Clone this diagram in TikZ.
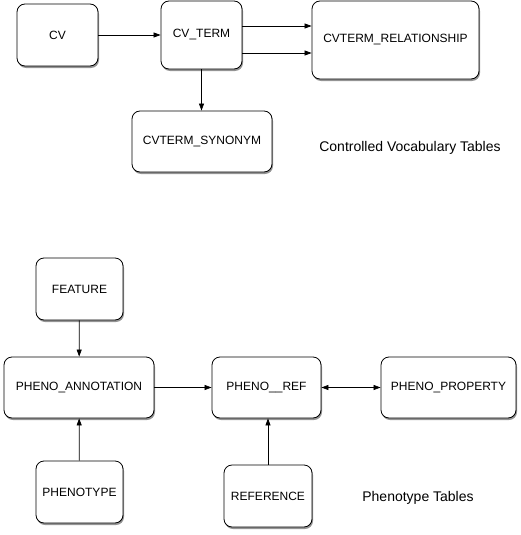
\documentclass[tikz,border=0pt]{standalone}
\usepackage{fontspec}
\setmainfont{Liberation Sans}
\usetikzlibrary{arrows.meta,shadows}

\begin{document}
\begin{tikzpicture}[x=1pt,y=-1pt,
    tbl/.style={draw,fill=white,line width=0.8pt,rounded corners=8pt,
      drop shadow={shadow xshift=1pt,shadow yshift=-2pt,fill=black!70,opacity=0.6},
      font=\fontsize{12}{14}\selectfont},
    caption/.style={font=\fontsize{14}{16}\selectfont}]
      \useasboundingbox (0,0) rectangle (520,535);
      % controlled vocabulary
      \draw
        (57.5,35) node[tbl,minimum width=81pt,minimum height=62pt] (cv){CV}
        (201.5,35) node[tbl,minimum width=81pt,minimum height=68pt] (cvterm){CV\_TERM}
        (395.5,40) node[tbl,minimum width=167pt,minimum height=78pt] (rel){CVTERM\_RELATIONSHIP}
        (202,141.5) node[tbl,minimum width=140pt,minimum height=61pt] (syn){CVTERM\_SYNONYM}
        (410,148) node[caption] (cvcap){Controlled Vocabulary Tables};
      % phenotype
      \draw
        (79.5,289) node[tbl,minimum width=87pt,minimum height=62pt] (feature){FEATURE}
        (79,387.5) node[tbl,minimum width=150pt,minimum height=61pt] (annot){PHENO\_ANNOTATION}
        (266.5,387.5) node[tbl,minimum width=109pt,minimum height=61pt] (pref){PHENO\_\_REF}
        (448.5,387.5) node[tbl,minimum width=135pt,minimum height=61pt] (prop){PHENO\_PROPERTY}
        (79.5,492) node[tbl,minimum width=87pt,minimum height=62pt] (ptype){PHENOTYPE}
        (268,496) node[tbl,minimum width=88pt,minimum height=62pt] (ref){REFERENCE}
        (418,498) node[caption] (phcap){Phenotype Tables};
      \begin{scope}[-{Triangle[length=7pt,width=5pt]},line width=0.7pt]
        \draw (cv) -- (cvterm);
        \draw ([yshift=9pt]cvterm.east) -- ([yshift=9pt]cvterm.east -| rel.west);
        \draw ([yshift=-18pt]cvterm.east) -- ([yshift=-18pt]cvterm.east -| rel.west);
        \draw (cvterm) -- (cvterm |- syn.north);
        \draw (feature) -- (annot);
        \draw (ptype) -- (annot);
        \draw (annot) -- (pref);
        \draw[{Triangle[length=7pt,width=5pt]}-{Triangle[length=7pt,width=5pt]}] (pref) -- (prop);
        \draw (ref.north) -- (ref.north |- pref.south);
      \end{scope}
    \end{tikzpicture}
\end{document}
